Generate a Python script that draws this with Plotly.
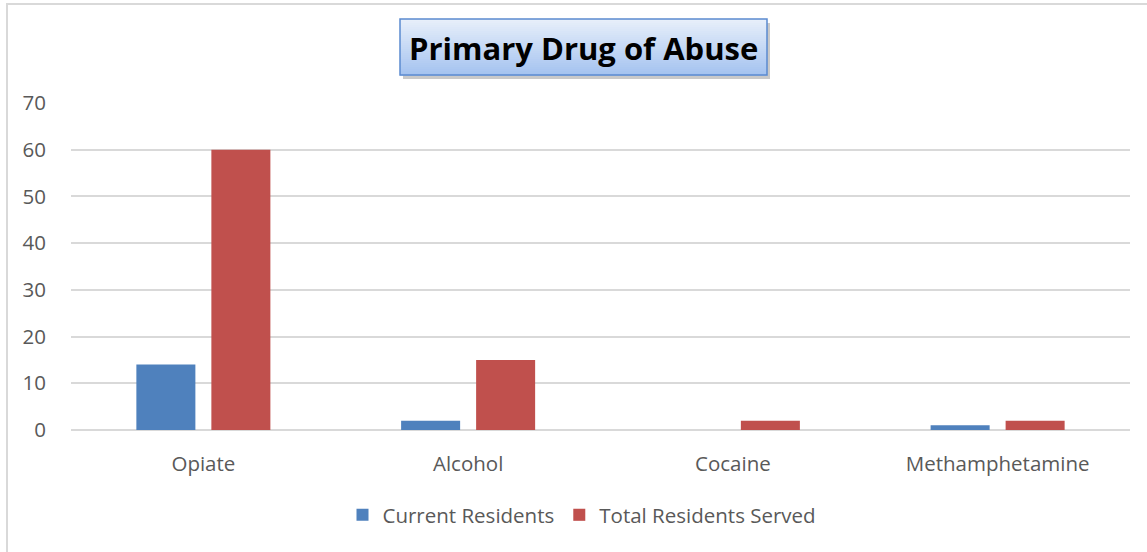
import plotly.graph_objects as go

categories = ["Opiate", "Alcohol", "Cocaine", "Methamphetamine"]
current_residents = [14, 2, 0, 1]
total_served = [60, 15, 2, 2]
y_ticks = [0, 10, 20, 30, 40, 50, 60, 70]

W, H = 1147, 552
L, R, T, B = 71, 17, 103, 122
PW, PH = W - L - R, H - T - B

def px(x):
    return (x - L) / PW

def py(y):
    return (H - B - y) / PH

fig = go.Figure()
fig.add_trace(go.Bar(name="Current Residents", x=categories, y=current_residents,
                     marker=dict(color="#4F81BD", line=dict(width=0))))
fig.add_trace(go.Bar(name="Total Residents Served", x=categories, y=total_served,
                     marker=dict(color="#C0504D", line=dict(width=0))))

shapes = []
# outer chart frame
shapes.append(dict(type="rect", xref="paper", yref="paper",
                   x0=px(7), x1=px(W + 10), y0=py(H + 10), y1=py(4),
                   line=dict(color="#D9D9D9", width=2), fillcolor="rgba(0,0,0,0)",
                   layer="below"))

# title box: shadow, gradient fill, border
bx0, bx1, by0, by1 = 400, 767, 19, 75
shapes.append(dict(type="rect", xref="paper", yref="paper",
                   x0=px(bx0 + 3), x1=px(bx1 + 3), y0=py(by1 + 4), y1=py(by0 + 4),
                   line=dict(width=0), fillcolor="rgba(120,120,120,0.4)"))
top = (231, 239, 250)
bot = (165, 195, 240)
n = 28
for i in range(n):
    t = i / (n - 1)
    c = tuple(round(top[k] + (bot[k] - top[k]) * t) for k in range(3))
    ya = by0 + (by1 - by0) * i / n
    yb = by0 + (by1 - by0) * (i + 1) / n
    shapes.append(dict(type="rect", xref="paper", yref="paper",
                       x0=px(bx0), x1=px(bx1), y0=py(yb + 0.5), y1=py(ya),
                       line=dict(width=0), fillcolor="rgb(%d,%d,%d)" % c))
shapes.append(dict(type="rect", xref="paper", yref="paper",
                   x0=px(bx0), x1=px(bx1), y0=py(by1), y1=py(by0),
                   line=dict(color="#5B8BD0", width=1.5), fillcolor="rgba(0,0,0,0)"))

fig.update_layout(
    width=W, height=H,
    margin=dict(l=L, r=R, t=T, b=B, pad=0),
    paper_bgcolor="white", plot_bgcolor="white",
    barmode="group", bargap=0.4334, bargroupgap=0.2133,
    font=dict(family="Open Sans", color="#595959", size=20),
    shapes=shapes,
    annotations=[dict(text="<b>Primary Drug of Abuse</b>", xref="paper", yref="paper",
                      x=px((bx0 + bx1) / 2), y=py((by0 + by1) / 2 + 1),
                      xanchor="center", yanchor="middle", showarrow=False,
                      font=dict(family="Open Sans", size=31, color="black"))],
    legend=dict(orientation="h", x=px(582), y=py(515), xanchor="center", yanchor="middle",
                font=dict(size=20.5, color="#595959"), itemwidth=30,
                traceorder="normal"),
    showlegend=True,
)
fig.update_xaxes(showline=False, ticks="", showgrid=False,
                 tickfont=dict(size=20.5, color="#595959"), ticklabelstandoff=19)
fig.update_yaxes(range=[0, 70], tickvals=y_ticks, showgrid=True, gridcolor="#D9D9D9",
                 gridwidth=1.5, zeroline=True, zerolinecolor="#D9D9D9", zerolinewidth=1.5,
                 showline=False, ticks="", tickfont=dict(size=20.5, color="#595959"),
                 ticklabelstandoff=24)

fig.write_html("out.html")
